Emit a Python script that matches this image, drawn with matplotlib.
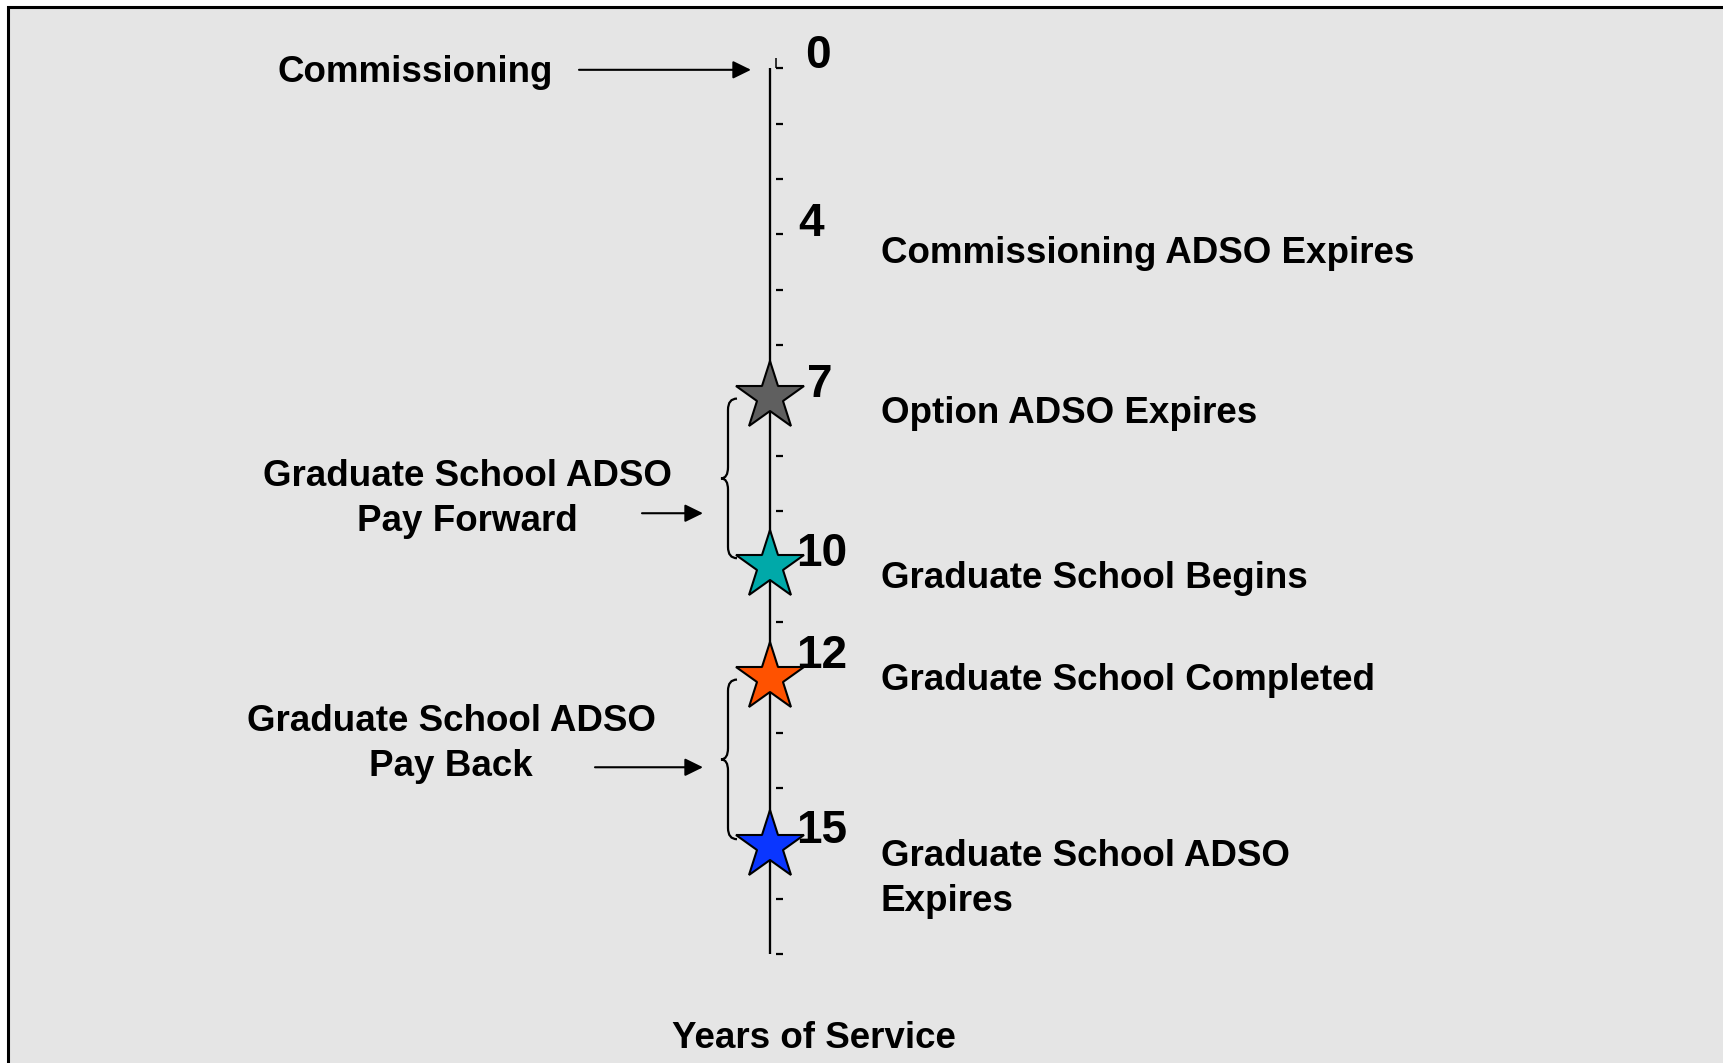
import numpy as np
import matplotlib
matplotlib.use("Agg")
import matplotlib.pyplot as plt
from matplotlib.path import Path
from matplotlib.patches import PathPatch, Rectangle

plt.rcParams['font.family'] = ['Liberation Sans', 'DejaVu Sans']
plt.rcParams['font.weight'] = 'bold'

# ---------------- data ----------------
milestone_years = [0, 4, 7, 10, 12, 15]
milestone_labels = ["0", "4", "7", "10", "12", "15"]
event_labels = ["", "Commissioning ADSO Expires", "Option ADSO Expires",
                "Graduate School Begins", "Graduate School Completed",
                "Graduate School ADSO\nExpires"]
star_years = [7, 10, 12, 15]
star_colors = ["#5F5F5F", "#00A9A9", "#FF5200", "#0A36FF"]
brace_starts = [7, 12]
brace_ends = [10, 15]
brace_labels = ["Graduate School ADSO\nPay Forward", "Graduate School ADSO\nPay Back"]
start_label = "Commissioning"
axis_title = "Years of Service"
ruler_tick_count = 17

# ---------------- layout / style ----------------
W, H, DPI = 1724, 1063, 100
PX_PER_YEAR = 56.2
Y0_PX = 3.5
AXIS_X = 770
RULER_TOP, RULER_BOTTOM = 1.15, 16.92
TICK_X0, TICK_X1 = 776, 783
NUM_X = 796
NUM_DX = [9, 2, 11, 0, 0, 0]
NUM_DY = [-0.01, 0.13, 0.01, 0.0, -0.17, -0.07]
EVENT_X = 881
EVENT_DY = [0, 0.62, 0.46, 0.40, 0.22, 0.33]
BRACE_TEXT_X = [467, 451]
BRACE_TEXT_DY = [1.57, 0.93]
BRACE_ARROW_X0 = [642, 595]
BRACE_ARROW_X1 = 703
BRACE_ARROW_DY = [2.07, 1.59]
LINE_GAP = 0.82          # baseline-to-baseline distance (in years units)
BG = "#E5E5E5"
FS = 26.5
NUM_FS = 33

fig = plt.figure(figsize=(W / DPI, H / DPI), dpi=DPI, facecolor="white")
ax = fig.add_axes([0, 0, 1, 1])
ax.set_xlim(0, W)
ax.set_ylim((H - Y0_PX) / PX_PER_YEAR, -Y0_PX / PX_PER_YEAR)
ax.axis("off")

# frame (extends past the right and bottom edges)
frame = Rectangle((8.5 / W, -0.1), 1.2, 1 - 6.7 / H + 0.1, transform=fig.transFigure,
                  facecolor=BG, edgecolor="black", linewidth=2.2, zorder=-1)
fig.add_artist(frame)

# ruler
ax.plot([AXIS_X, AXIS_X], [RULER_TOP, RULER_BOTTOM], color="black", lw=1.65,
        solid_capstyle="butt", zorder=2)
tick_y = np.linspace(RULER_TOP, RULER_BOTTOM, ruler_tick_count)
ax.hlines(tick_y, TICK_X0, TICK_X1, color="black", lw=1.6, zorder=2)
ax.vlines(TICK_X0, RULER_TOP - 0.18, RULER_TOP, color="black", lw=1.1, zorder=2)

# stars
for yr, col in zip(star_years, star_colors):
    ax.plot([AXIS_X], [yr], marker="*", ms=52, mfc=col, mec="black", mew=1.5,
            linestyle="none", zorder=5)

# year numbers
for yr, lab, dx, dy in zip(milestone_years, milestone_labels, NUM_DX, NUM_DY):
    ax.text(NUM_X + dx, max(yr, RULER_TOP) + dy, lab, fontsize=NUM_FS, ha="left",
            va="baseline", fontweight="bold", zorder=6)


def multiline_text(x, y_first, s, **kw):
    # matplotlib's 'baseline' alignment uses the last line; place first line at y_first
    n = s.count("\n")
    ax.text(x, y_first + n * LINE_GAP, s, va="baseline", linespacing=1.38,
            fontsize=FS, fontweight="bold", **kw)


# event descriptions
for yr, lab, dy in zip(milestone_years, event_labels, EVENT_DY):
    if lab:
        multiline_text(EVENT_X, yr + dy, lab, ha="left")

arrow_kw = dict(arrowstyle="-|>,head_length=0.55,head_width=0.27", color="black",
                lw=1.5, mutation_scale=20, shrinkA=0, shrinkB=0)

# commissioning label and arrow
multiline_text(553, RULER_TOP + 0.24, start_label, ha="right")
ax.annotate("", xy=(751, RULER_TOP + 0.03), xytext=(579, RULER_TOP + 0.03),
            arrowprops=arrow_kw)


def draw_brace(y0, y1, x_tip=721, x_mid=728, x_end=737, r=0.2):
    ym = (y0 + y1) / 2
    verts = [(x_end, y0), (x_mid, y0), (x_mid, y0 + r),
             (x_mid, ym - r),
             (x_mid, ym), (x_tip, ym),
             (x_mid, ym), (x_mid, ym + r),
             (x_mid, y1 - r),
             (x_mid, y1), (x_end, y1)]
    codes = [Path.MOVETO, Path.CURVE3, Path.CURVE3,
             Path.LINETO,
             Path.CURVE3, Path.CURVE3,
             Path.CURVE3, Path.CURVE3,
             Path.LINETO,
             Path.CURVE3, Path.CURVE3]
    ax.add_patch(PathPatch(Path(verts, codes), facecolor="none", edgecolor="black",
                           lw=1.6, zorder=3))


for i, (s, e, lab) in enumerate(zip(brace_starts, brace_ends, brace_labels)):
    draw_brace(s + 0.03, e - 0.13)
    multiline_text(BRACE_TEXT_X[i], s + BRACE_TEXT_DY[i], lab, ha="center")
    ay = s + BRACE_ARROW_DY[i]
    ax.annotate("", xy=(BRACE_ARROW_X1, ay), xytext=(BRACE_ARROW_X0[i], ay),
                arrowprops=arrow_kw)

multiline_text(814, 18.585, axis_title, ha="center")

fig.savefig("out.png", dpi=DPI, facecolor="white")
